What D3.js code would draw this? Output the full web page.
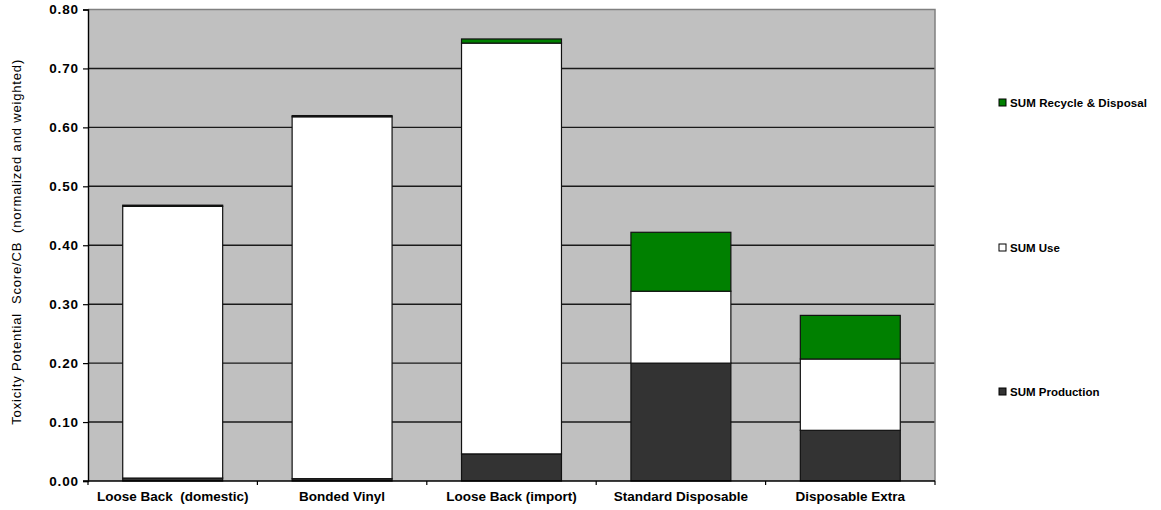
<!DOCTYPE html>
<html>
<head>
<meta charset="utf-8">
<script src="https://cdn.jsdelivr.net/npm/d3@7"></script>
<style>
  html, body { margin: 0; padding: 0; background: #fff; }
  svg { display: block; }
  text { font-family: "Liberation Sans", Arial, sans-serif; }
</style>
</head>
<body>
<svg id="chart" width="1161" height="510"></svg>
<script>
// Stacked toxicity scores per product
const categories = ["Loose Back  (domestic)", "Bonded Vinyl", "Loose Back (import)", "Standard Disposable", "Disposable Extra"];
const production = [0.005, 0.004, 0.046, 0.200, 0.086];
const use        = [0.461, 0.614, 0.697, 0.122, 0.121];
const recycle    = [0.002, 0.002, 0.007, 0.100, 0.074];
const seriesNames = ["SUM Production", "SUM Use", "SUM Recycle & Disposal"];
const seriesColors = ["#333333", "#ffffff", "#008000"];
const yTicks = [0, 0.1, 0.2, 0.3, 0.4, 0.5, 0.6, 0.7, 0.8];
const yTitle = "Toxicity Potential  Score/CB  (normalized and weighted)";

const svg = d3.select("#chart");
const m = { left: 88, right: 935, top: 9.5, bottom: 481 };

const rows = categories.map((c, i) => ({
  cat: c,
  "SUM Production": production[i],
  "SUM Use": use[i],
  "SUM Recycle & Disposal": recycle[i]
}));

const x = d3.scaleBand().domain(categories).range([m.left, m.right]).paddingInner(0.41).paddingOuter(0.205);
const xEdges = d3.scaleLinear().domain([0, categories.length]).range([m.left, m.right]);
const y = d3.scaleLinear().domain([0, 0.8]).range([m.bottom, m.top]);

// plot area
svg.append("rect")
  .attr("x", m.left).attr("y", m.top)
  .attr("width", m.right - m.left).attr("height", m.bottom - m.top)
  .attr("fill", "#c0c0c0");

// horizontal gridlines
svg.append("g").selectAll("line")
  .data(yTicks.filter(t => t > 0 && t < 0.8))
  .join("line")
  .attr("x1", m.left).attr("x2", m.right)
  .attr("y1", d => y(d)).attr("y2", d => y(d))
  .attr("stroke", "#1a1a1a").attr("stroke-width", 1.4);

// top and right border of the plot area
svg.append("path")
  .attr("d", `M${m.left},${m.top}H${m.right}V${m.bottom}`)
  .attr("fill", "none").attr("stroke", "#808080").attr("stroke-width", 1.5);

// stacked bars
const stack = d3.stack().keys(seriesNames);
const layers = stack(rows);
svg.append("g").selectAll("g")
  .data(layers)
  .join("g")
  .attr("fill", (d, i) => seriesColors[i])
  .selectAll("rect")
  .data(d => d)
  .join("rect")
  .attr("x", d => x(d.data.cat))
  .attr("width", x.bandwidth())
  .attr("y", d => y(d[1]))
  .attr("height", d => y(d[0]) - y(d[1]))
  .attr("stroke", "#111")
  .attr("stroke-width", 1.2);

// y axis
const yAxis = d3.axisLeft(y).tickValues(yTicks).tickFormat(d3.format(".2f")).tickSize(5).tickPadding(4);
const gy = svg.append("g").attr("transform", `translate(${m.left},0)`).call(yAxis);
gy.select(".domain").attr("stroke", "#000").attr("stroke-width", 1.4);
gy.selectAll(".tick line").attr("stroke", "#000").attr("stroke-width", 1.2);
gy.selectAll(".tick text")
  .attr("font-size", 13.5).attr("font-weight", "bold").attr("fill", "#000")
  .attr("letter-spacing", 0.9)
  .attr("font-family", "'Liberation Sans', Arial, sans-serif");

// x axis baseline and category boundary ticks
svg.append("line")
  .attr("x1", m.left - 5).attr("x2", m.right)
  .attr("y1", m.bottom).attr("y2", m.bottom)
  .attr("stroke", "#000").attr("stroke-width", 1.4);
svg.append("g").selectAll("line")
  .data(d3.range(categories.length + 1))
  .join("line")
  .attr("x1", d => xEdges(d)).attr("x2", d => xEdges(d))
  .attr("y1", m.bottom).attr("y2", m.bottom + 4)
  .attr("stroke", "#000").attr("stroke-width", 1.2);

svg.append("g").selectAll("text")
  .data(categories)
  .join("text")
  .attr("x", d => x(d) + x.bandwidth() / 2)
  .attr("y", 501)
  .attr("text-anchor", "middle")
  .attr("font-size", 13.5).attr("font-weight", "bold").attr("fill", "#000")
  .attr("xml:space", "preserve")
  .style("white-space", "pre")
  .text(d => d);

// y axis title
svg.append("text")
  .attr("transform", `translate(21,${(m.top + m.bottom) / 2 - 3}) rotate(-90)`)
  .attr("text-anchor", "middle")
  .attr("font-size", 13).attr("fill", "#000")
  .attr("textLength", 365)
  .attr("xml:space", "preserve")
  .style("white-space", "pre")
  .text(yTitle);

// legend
const legendY = { "SUM Recycle & Disposal": 103, "SUM Use": 248, "SUM Production": 392 };
const lg = svg.append("g").selectAll("g")
  .data(seriesNames)
  .join("g")
  .attr("transform", d => `translate(999,${legendY[d]})`);
lg.append("rect")
  .attr("x", 0).attr("y", -4).attr("width", 7).attr("height", 7)
  .attr("fill", d => seriesColors[seriesNames.indexOf(d)])
  .attr("stroke", "#000").attr("stroke-width", 1);
lg.append("text")
  .attr("x", 11).attr("y", 4)
  .attr("font-size", 11.5).attr("font-weight", "bold").attr("fill", "#000")
  .attr("textLength", d => d === "SUM Recycle & Disposal" ? 137 : null)
  .text(d => d);
</script>
</body>
</html>
